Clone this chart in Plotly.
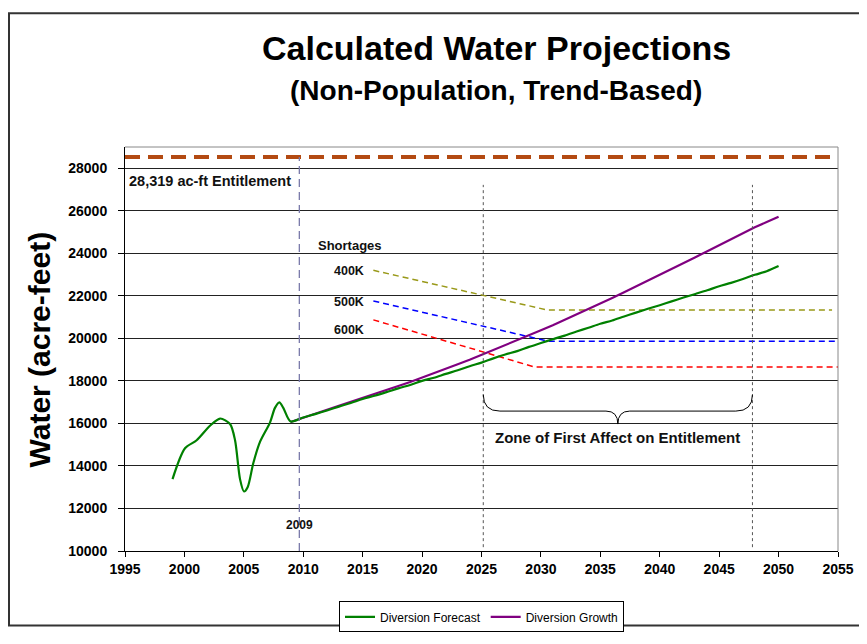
import plotly.graph_objects as go

# ---------------- data ----------------
hist_years = [1999.0, 2000.05, 2001.03, 2002.15, 2003.0, 2003.84, 2004.26, 2004.68,
              2005.01, 2005.32, 2005.8, 2006.36, 2007.2, 2007.62, 2007.99, 2008.32, 2008.94]
hist_values = [13380, 14830, 15210, 15890, 16230, 15970, 15210, 13380,
               12800, 13000, 14140, 15130, 16040, 16730, 16990, 16730, 16090]

proj_years = list(range(2010, 2051))
forecast_values = [16280, 16440, 16610, 16790, 16960, 17150, 17300, 17470, 17650, 17810,
                   18000, 18150, 18330, 18500, 18690, 18860, 19060, 19240, 19400, 19600,
                   19780, 19960, 20130, 20320, 20500, 20690, 20840, 21030, 21210, 21390,
                   21560, 21740, 21920, 22090, 22260, 22450, 22610, 22790, 22990, 23160,
                   23400]
growth_start = [2008.94, 16070]
growth_values = [16280, 16460, 16640, 16830, 17010, 17200, 17380, 17570, 17760, 17950,
                 18150, 18360, 18560, 18780, 18990, 19220, 19450, 19680, 19900, 20120,
                 20380, 20620, 20870, 21120, 21380, 21640, 21900, 22170, 22440, 22710,
                 22990, 23260, 23540, 23820, 24100, 24380, 24670, 24960, 25230, 25470,
                 25720]

shortage_labels = ["400K", "500K", "600K"]
shortage_years = [[2015.9, 2030.5, 2054.5], [2015.9, 2030.6, 2055.0], [2015.9, 2029.5, 2055.0]]
shortage_values = [[23200, 21340, 21340], [21760, 19870, 19870], [20870, 18650, 18650]]
shortage_colors = ["#999919", "#0000FF", "#FF0000"]
shortage_label_y = [23167, 21723, 20388]

entitlement_value = 28530
entitlement_label = "28,319 ac-ft Entitlement"
base_year = 2009.67
zone = [2025.15, 2047.8]

x_ticks = list(range(1995, 2056, 5))
y_ticks = list(range(10000, 28001, 2000))

FONT = "Liberation Sans, Arial, sans-serif"

fig = go.Figure()

# entitlement line
fig.add_trace(go.Scatter(x=[1995, 2055], y=[entitlement_value, entitlement_value], mode="lines",
                         line=dict(color="#B34A12", width=4, dash="15px,8px"),
                         showlegend=False, hoverinfo="skip"))

# shortage lines
for yrs, vals, col in zip(shortage_years, shortage_values, shortage_colors):
    fig.add_trace(go.Scatter(x=yrs, y=vals, mode="lines",
                             line=dict(color=col, width=1.5, dash="6px,4px"),
                             showlegend=False))

# growth
fig.add_trace(go.Scatter(x=[growth_start[0]] + proj_years, y=[growth_start[1]] + growth_values,
                         mode="lines", name="Diversion Growth", legendrank=2,
                         line=dict(color="#800080", width=2.2)))
# forecast (historical + projection)
fig.add_trace(go.Scatter(x=hist_years + proj_years, y=hist_values + forecast_values,
                         mode="lines", name="Diversion Forecast", legendrank=1,
                         line=dict(color="#008000", width=2.2, shape="spline", smoothing=0.8)))

shapes = []
# 2009 vertical dashed line
shapes.append(dict(type="line", xref="x", yref="y", x0=base_year, x1=base_year,
                   y0=10000, y1=entitlement_value,
                   line=dict(color="#7A7AAA", width=1.3, dash="8px,5px"), layer="above"))
# zone dotted lines
for zx in zone:
    shapes.append(dict(type="line", xref="x", yref="y", x0=zx, x1=zx, y0=10180, y1=27220,
                       line=dict(color="#555555", width=1, dash="dot")))
# brace
zl, zr = zone
zm = (zl + zr) / 2
ytop, ymid, ytip = 17350, 16580, 15970
path = (f"M {zl},{ytop} Q {zl},{ymid} {zl+1.4},{ymid} L {zm-1.0},{ymid} "
        f"Q {zm},{ymid} {zm},{ytip} Q {zm},{ymid} {zm+1.0},{ymid} "
        f"L {zr-1.4},{ymid} Q {zr},{ymid} {zr},{ytop}")
shapes.append(dict(type="path", xref="x", yref="y", path=path,
                   line=dict(color="black", width=1)))
# top and right plot border (gray)
shapes.append(dict(type="line", xref="paper", yref="paper", x0=0, x1=1, y0=1, y1=1,
                   line=dict(color="#888888", width=1)))
shapes.append(dict(type="line", xref="paper", yref="paper", x0=1, x1=1, y0=0, y1=1,
                   line=dict(color="#888888", width=1)))
# outer chart border
shapes.append(dict(type="rect", xref="paper", yref="paper", x0=-0.1627, x1=1.08,
                   y0=-0.1847, y1=1.331, line=dict(color="#333333", width=2)))

annotations = [
    dict(text="<b>Calculated Water Projections</b>", xref="paper", yref="paper",
         x=0.5217, y=1.244, xanchor="center", yanchor="middle", showarrow=False,
         font=dict(family=FONT, size=34, color="black")),
    dict(text="<b>(Non-Population, Trend-Based)</b>", xref="paper", yref="paper",
         x=0.5203, y=1.1408, xanchor="center", yanchor="middle", showarrow=False,
         font=dict(family=FONT, size=28, color="black")),
    dict(text="<b>Water (acre-feet)</b>", xref="paper", yref="paper", x=-0.1206, y=0.4988,
         xanchor="center", yanchor="middle", textangle=-90, showarrow=False,
         font=dict(family=FONT, size=30, color="black")),
    dict(text=f"<b>{entitlement_label}</b>", xref="x", yref="y", x=1995.2, y=27418,
         xanchor="left", yanchor="middle", showarrow=False,
         font=dict(family=FONT, size=14.5, color="#111111")),
    dict(text="<b>2009</b>", xref="x", yref="y", x=base_year, y=11244,
         xanchor="center", yanchor="middle", showarrow=False,
         font=dict(family=FONT, size=12, color="#111111")),
    dict(text="<b>Shortages</b>", xref="x", yref="y", x=2011.1, y=24384,
         xanchor="left", yanchor="middle", showarrow=False,
         font=dict(family=FONT, size=13, color="#111111")),
    dict(text="<b>Zone of First Affect on Entitlement</b>", xref="x", yref="y", x=zm, y=15344,
         xanchor="center", yanchor="middle", showarrow=False,
         font=dict(family=FONT, size=15, color="#111111")),
]
for lab, ly in zip(shortage_labels, shortage_label_y):
    annotations.append(dict(text=f"<b>{lab}</b>", xref="x", yref="y", x=2015.3,
                            y=ly, xanchor="right", yanchor="middle", showarrow=False,
                            font=dict(family=FONT, size=12.5, color="#111111")))

fig.update_layout(
    width=859, height=636,
    margin=dict(l=117, r=29, t=139, b=80),
    paper_bgcolor="white", plot_bgcolor="white",
    font=dict(family=FONT, color="black"),
    showlegend=True,
    legend=dict(orientation="h", x=0.5, xanchor="center", y=-0.1247, yanchor="top",
                bordercolor="black", borderwidth=1, bgcolor="white",
                font=dict(family=FONT, size=12, color="black"),
                itemwidth=30, tracegroupgap=0),
    shapes=shapes,
    annotations=annotations,
)
fig.update_xaxes(range=[1995, 2055], tickvals=x_ticks, tickformat="d",
                 showgrid=False, zeroline=False, showline=True, linecolor="black", linewidth=1,
                 ticks="outside", ticklen=5, tickcolor="black",
                 tickfont=dict(family=FONT, size=14, color="black", weight="bold"))
fig.update_yaxes(range=[10000, 29000], tickvals=y_ticks, tickformat="d",
                 showgrid=True, gridcolor="#222222", gridwidth=1, zeroline=False,
                 showline=True, linecolor="black", linewidth=1,
                 ticks="outside", ticklen=6, tickcolor="black", ticklabelstandoff=8,
                 tickfont=dict(family=FONT, size=14, color="black", weight="bold"))

fig.write_html("out.html")
